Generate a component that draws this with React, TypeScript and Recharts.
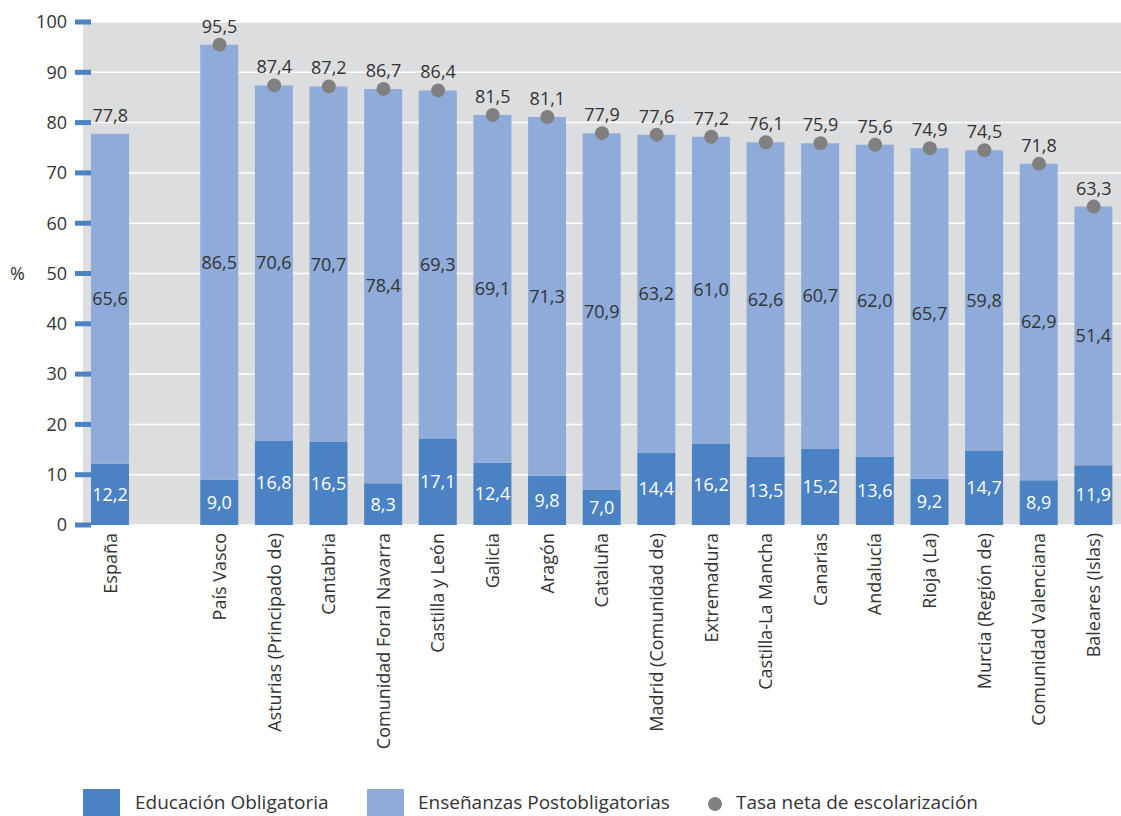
import { ComposedChart, Bar, Line, XAxis, YAxis, CartesianGrid, LabelList } from 'recharts'

// regiones (la segunda, vacía, deja el hueco entre España y las comunidades)
const regiones = [
  'España', '', 'País Vasco', 'Asturias (Principado de)', 'Cantabria', 'Comunidad Foral Navarra',
  'Castilla y León', 'Galicia', 'Aragón', 'Cataluña', 'Madrid (Comunidad de)', 'Extremadura',
  'Castilla-La Mancha', 'Canarias', 'Andalucía', 'Rioja (La)', 'Murcia (Región de)',
  'Comunidad Valenciana', 'Baleares (Islas)',
]
const obligatoria = [12.2, null, 9.0, 16.8, 16.5, 8.3, 17.1, 12.4, 9.8, 7.0, 14.4, 16.2, 13.5, 15.2, 13.6, 9.2, 14.7, 8.9, 11.9]
const postobligatoria = [65.6, null, 86.5, 70.6, 70.7, 78.4, 69.3, 69.1, 71.3, 70.9, 63.2, 61.0, 62.6, 60.7, 62.0, 65.7, 59.8, 62.9, 51.4]
const tasa = [77.8, null, 95.5, 87.4, 87.2, 86.7, 86.4, 81.5, 81.1, 77.9, 77.6, 77.2, 76.1, 75.9, 75.6, 74.9, 74.5, 71.8, 63.3]
const yTicks = [0, 10, 20, 30, 40, 50, 60, 70, 80, 90, 100]

const OSCURO = '#4a82c3'
const CLARO = '#8eabd9'
const PUNTO = '#808080'
const FONT = '"Open Sans", Lato, sans-serif'

const data = regiones.map((r, i) => ({
  region: r,
  obligatoria: obligatoria[i],
  postobligatoria: postobligatoria[i],
  tasa: tasa[i],
}))

const fmt = (v: any) => (v == null ? '' : Number(v).toFixed(1).replace('.', ','))

const YTick = ({ y, payload }: any) => (
  <g>
    <rect x={75} y={y - 2.5} width={16} height={5} fill={OSCURO} />
    <text x={67} y={y} dy="0.35em" textAnchor="end" fontSize={18} fill="#333" fontFamily={FONT}>
      {payload.value}
    </text>
  </g>
)

const XTick = ({ x, payload }: any) => {
  const y = 533
  return (
    <text
      x={x}
      y={y}
      transform={`rotate(-90 ${x} ${y})`}
      textAnchor="end"
      dy="0.35em"
      fontSize={18}
      fill="#333"
      fontFamily={FONT}
    >
      {payload.value}
    </text>
  )
}

// España lleva la etiqueta de la tasa pero no el punto
const Dot = (props: any) => {
  const { cx, cy, payload, index } = props
  if (payload.region === 'España' || payload.tasa == null) return <g key={`d-${index}`} />
  return <circle key={`d-${index}`} cx={cx} cy={cy} r={7} fill={PUNTO} />
}

export default function App() {
  return (
    <div style={{ position: 'absolute', left: 0, top: 0, width: 1121, height: 816, overflow: 'hidden', background: '#fff', fontFamily: FONT }}>
      <ComposedChart
        width={1121}
        height={780}
        data={data}
        margin={{ top: 22, right: 0, bottom: 0, left: 0 }}
      >
        <CartesianGrid vertical={false} stroke="#ffffff" strokeWidth={1.5} fill="#dcdddf" />
        <XAxis
          dataKey="region"
          interval={0}
          height={255}
          axisLine={false}
          tickLine={false}
          tick={<XTick />}
        />
        <YAxis
          width={83}
          domain={[0, 100]}
          ticks={yTicks}
          axisLine={false}
          tickLine={false}
          tick={<YTick />}
          label={{ value: '%', position: 'insideLeft', offset: 10, fontSize: 18, fill: '#333', fontFamily: FONT }}
        />
        <Bar dataKey="obligatoria" stackId="a" fill={OSCURO} barSize={38} isAnimationActive={false}>
          <LabelList dataKey="obligatoria" position="center" formatter={fmt} fill="#fff" fontSize={18} fontFamily={FONT} />
        </Bar>
        <Bar dataKey="postobligatoria" stackId="a" fill={CLARO} barSize={38} isAnimationActive={false}>
          <LabelList dataKey="postobligatoria" position="center" formatter={fmt} fill="#333" fontSize={18} fontFamily={FONT} />
        </Bar>
        <Line
          dataKey="tasa"
          stroke="none"
          dot={<Dot />}
          activeDot={false}
          isAnimationActive={false}
        >
          <LabelList dataKey="tasa" position="top" offset={12} formatter={fmt} fill="#333" fontSize={18} fontFamily={FONT} />
        </Line>
      </ComposedChart>

      {/* leyenda */}
      <div style={{ position: 'absolute', left: 83, top: 789, width: 37, height: 30, background: OSCURO }} />
      <div style={{ position: 'absolute', left: 135, top: 789, fontSize: 19, color: '#333' }}>Educación Obligatoria</div>
      <div style={{ position: 'absolute', left: 367, top: 789, width: 37, height: 30, background: CLARO }} />
      <div style={{ position: 'absolute', left: 418, top: 789, fontSize: 19, color: '#333' }}>Enseñanzas Postobligatorias</div>
      <div style={{ position: 'absolute', left: 708, top: 797, width: 14, height: 14, borderRadius: 7, background: PUNTO }} />
      <div style={{ position: 'absolute', left: 736, top: 789, fontSize: 19, color: '#333' }}>Tasa neta de escolarización</div>
    </div>
  )
}
